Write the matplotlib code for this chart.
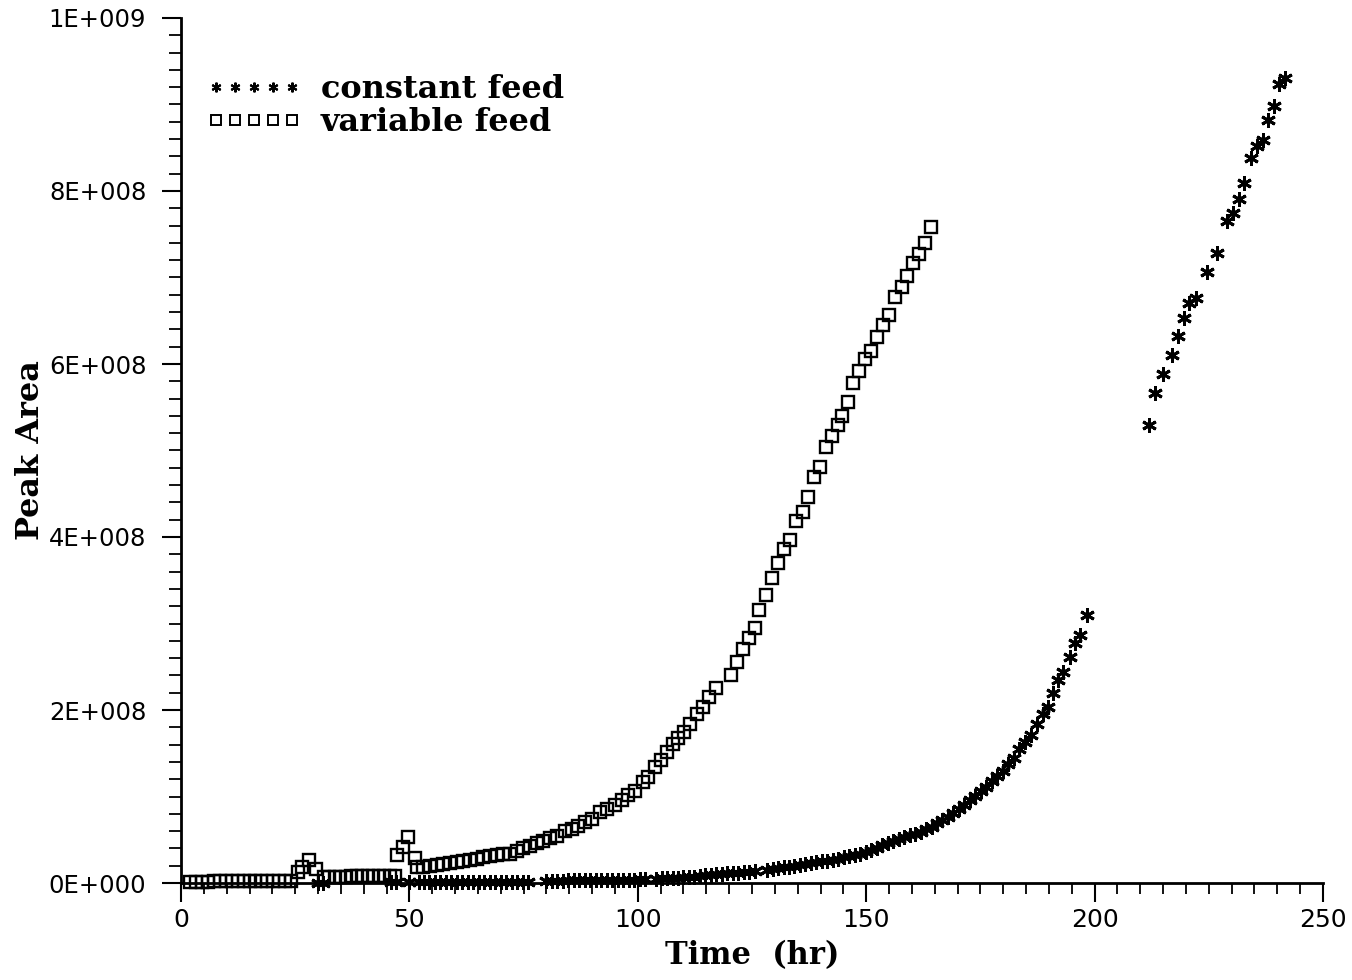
import matplotlib
matplotlib.use("Agg")
import matplotlib.pyplot as plt
from matplotlib.ticker import MultipleLocator
from matplotlib.lines import Line2D

# ---------------- data (hours, peak area in units of 1e9) ----------------
var_time = [2.0, 3.3, 4.6, 5.9, 7.2, 8.5, 9.8, 11.1, 12.4, 13.7, 15.0, 16.3, 17.6, 18.9,
            20.2, 21.5, 22.8, 24.1,
            25.6, 26.5, 28.0, 29.6,
            31.3, 32.5, 33.7, 34.9, 36.1, 37.3, 38.5, 39.7, 40.9, 42.1, 43.3, 44.5, 45.7, 46.8,
            47.2, 48.6, 49.7, 51.2, 51.6,
            53.0, 54.5, 56.0, 57.4, 58.9, 60.4, 61.8, 63.3, 64.8, 66.1, 67.6, 69.2, 70.5, 72.0,
            73.6, 74.9, 76.4, 77.9, 79.2, 80.8, 82.3, 84.0, 85.6, 86.9, 88.4, 90.0, 91.7, 93.2,
            95.0, 96.5, 97.9, 99.4,
            101.1, 102.2, 103.8, 105.0, 106.4, 107.7, 108.8, 110.1, 111.4, 113.0, 114.3, 115.6,
            117.1, 120.4, 121.7, 123.0, 124.3, 125.7, 126.5,
            128.0, 129.4, 130.7, 132.0, 133.3, 134.6, 136.2, 137.3, 138.6, 139.9, 141.2, 142.5,
            143.8, 144.7, 146.0, 147.1, 148.4, 149.7, 151.0, 152.4, 153.7, 155.0, 156.3, 157.8,
            158.9, 160.2, 161.6, 162.9, 164.2]
var_area = [0.0015, 0.0016, 0.0015, 0.0017, 0.0018, 0.0019, 0.0018, 0.0020, 0.0021, 0.0020,
            0.0021, 0.0022, 0.0021, 0.0022, 0.0023, 0.0022, 0.0023, 0.0024,
            0.0127, 0.0185, 0.0270, 0.0160,
            0.0068, 0.0070, 0.0072, 0.0073, 0.0075, 0.0076, 0.0078, 0.0079, 0.0080, 0.0082,
            0.0083, 0.0084, 0.0085, 0.0086,
            0.032, 0.042, 0.053, 0.029, 0.019,
            0.0180, 0.0196, 0.021, 0.022, 0.023, 0.024, 0.025, 0.027, 0.028, 0.030, 0.031,
            0.032, 0.033, 0.034, 0.037, 0.040, 0.043, 0.046, 0.049, 0.052, 0.054, 0.060,
            0.063, 0.066, 0.070, 0.074, 0.082, 0.086, 0.090, 0.096, 0.102, 0.106,
            0.117, 0.123, 0.134, 0.142, 0.151, 0.161, 0.168, 0.175, 0.184, 0.195, 0.203, 0.215,
            0.226, 0.240, 0.255, 0.270, 0.283, 0.295, 0.316,
            0.333, 0.353, 0.370, 0.386, 0.397, 0.419, 0.429, 0.446, 0.469, 0.481, 0.504, 0.517,
            0.529, 0.540, 0.556, 0.578, 0.592, 0.606, 0.615, 0.631, 0.645, 0.657, 0.677, 0.689,
            0.702, 0.717, 0.727, 0.740, 0.758]

const_time = [30.0, 31.0, 46.0, 47.0, 50.0,
              52.0, 53.2, 54.4, 55.6, 56.8, 58.0, 59.2, 60.4, 61.6, 62.8, 64.0, 65.2, 66.4,
              67.6, 68.8, 70.0, 71.2, 72.4, 73.6, 74.8, 76.0,
              80.0, 81.2, 82.4, 83.6, 84.8, 86.0, 87.2, 88.4, 89.6, 90.8, 92.0, 93.2, 94.4,
              95.6, 96.8, 98.0, 99.2, 100.4, 101.6,
              104.0, 105.2, 106.4, 107.6, 108.8, 110.0, 111.2, 112.4, 113.6, 114.8, 116.0,
              117.2, 118.4, 119.6, 120.8, 122.0, 123.2, 124.4, 125.6,
              128.3, 129.5, 130.7, 131.9, 133.1, 134.3, 135.5, 136.7, 137.9, 139.1, 140.3,
              141.5, 142.7, 143.9, 145.1, 146.3, 147.5, 148.7, 149.9, 151.1, 152.3, 153.5,
              154.7, 155.9, 157.1, 158.3, 159.5, 160.7, 161.9, 163.1, 164.3, 165.5, 166.7,
              167.9, 169.1, 170.3, 171.5, 172.7, 173.9, 175.1, 176.3, 177.5, 178.7, 179.9,
              181.1, 182.3, 183.5, 184.8, 186.0, 187.3, 188.6, 189.7, 190.9, 192.0, 193.1,
              194.6, 195.7, 196.8, 198.3,
              211.9, 213.2, 215.0, 216.9, 218.3, 219.6, 220.7, 222.2, 224.6, 226.8, 229.0,
              230.3, 231.6, 232.7, 234.2, 235.5, 236.9, 238.0, 239.3, 240.4, 241.7]
const_area = [0.0005, 0.0005, 0.0006, 0.0006, 0.0008,
              0.0009, 0.0010, 0.0010, 0.0010, 0.0011, 0.0011, 0.0011, 0.0012, 0.0012, 0.0012,
              0.0013, 0.0013, 0.0013, 0.0014, 0.0014, 0.0014, 0.0015, 0.0015, 0.0015, 0.0016,
              0.0016,
              0.0025, 0.0026, 0.0027, 0.0028, 0.0029, 0.0030, 0.0031, 0.0032, 0.0033, 0.0033,
              0.0034, 0.0035, 0.0036, 0.0037, 0.0038, 0.0039, 0.0040, 0.0041, 0.0042,
              0.0050, 0.0053, 0.0056, 0.0059, 0.0062, 0.0065, 0.0068, 0.0072, 0.0080, 0.0087,
              0.0093, 0.0100, 0.0105, 0.0110, 0.0115, 0.0120, 0.0125, 0.0130, 0.0135,
              0.015, 0.016, 0.017, 0.018, 0.019, 0.020, 0.021, 0.022, 0.023, 0.024, 0.025,
              0.026, 0.027, 0.028, 0.030, 0.031, 0.032, 0.034, 0.036, 0.038, 0.041, 0.044,
              0.046, 0.049, 0.051, 0.053, 0.055, 0.057, 0.059, 0.062, 0.065, 0.069, 0.073,
              0.076, 0.081, 0.086, 0.090, 0.096, 0.101, 0.106, 0.111, 0.118, 0.124, 0.130,
              0.137, 0.145, 0.155, 0.163, 0.171, 0.184, 0.195, 0.204, 0.220, 0.235, 0.244,
              0.261, 0.277, 0.287, 0.310,
              0.529, 0.567, 0.588, 0.610, 0.632, 0.653, 0.671, 0.676, 0.706, 0.728, 0.765,
              0.775, 0.791, 0.809, 0.838, 0.852, 0.859, 0.882, 0.898, 0.924, 0.931]

x_ticks = [0, 50, 100, 150, 200, 250]
y_ticks = [0, 2e8, 4e8, 6e8, 8e8, 1e9]
y_tick_labels = ["0E+000", "2E+008", "4E+008", "6E+008", "8E+008", "1E+009"]
series_labels = ["constant feed", "variable feed"]

# ---------------- figure ----------------
fig = plt.figure(figsize=(13.52, 9.8), dpi=100)
ax = fig.add_axes([181 / 1352, 97 / 980, 1142 / 1352, 865 / 980])

asterisk = (6, 2, 0)
ax.plot(var_time, [v * 1e9 for v in var_area], linestyle="none", marker="s",
        markersize=8.8, markerfacecolor="none", markeredgecolor="black",
        markeredgewidth=1.7, clip_on=False, zorder=3)
ax.plot(const_time, [v * 1e9 for v in const_area], linestyle="none", marker=asterisk,
        markersize=10.5, markeredgecolor="black", markeredgewidth=2.1, color="black",
        clip_on=False, zorder=3)

ax.set_xlim(0, 250)
ax.set_ylim(0, 1e9)
ax.set_xticks(x_ticks)
ax.set_yticks(y_ticks)
ax.set_yticklabels(y_tick_labels)
ax.xaxis.set_minor_locator(MultipleLocator(5))
ax.yaxis.set_minor_locator(MultipleLocator(2e7))

for s in ["top", "right"]:
    ax.spines[s].set_visible(False)
for s in ["left", "bottom"]:
    ax.spines[s].set_linewidth(2.0)

ax.tick_params(axis="y", which="major", direction="out", length=14, width=1.5,
               labelsize=17.5, pad=11)
ax.tick_params(axis="y", which="minor", direction="out", length=9, width=1.3)
ax.tick_params(axis="x", which="major", direction="out", length=14, width=1.5,
               labelsize=18, pad=4)
ax.tick_params(axis="x", which="minor", direction="out", length=8, width=1.3)

for lab in ax.get_yticklabels():
    lab.set_fontfamily("DejaVu Sans")

ax.set_xlabel("Time  (hr)", labelpad=6, family="DejaVu Serif", weight="bold", size=22)
ax.set_ylabel("Peak Area", labelpad=2, family="DejaVu Serif", weight="bold", size=23)

handles = [
    Line2D([], [], linestyle="none", marker=asterisk, markersize=7, color="black",
           markeredgewidth=1.5),
    Line2D([], [], linestyle="none", marker="s", markersize=6.5, markerfacecolor="none",
           markeredgecolor="black", markeredgewidth=1.4),
]
leg = ax.legend(handles, series_labels, loc="upper left", bbox_to_anchor=(0.022, 0.935),
                numpoints=5, handlelength=3.0, handletextpad=0.6, labelspacing=0.05,
                frameon=False, borderpad=0, borderaxespad=0,
                prop=dict(family="DejaVu Serif", weight="bold", size=23))

fig.savefig("out.png", dpi=100)
